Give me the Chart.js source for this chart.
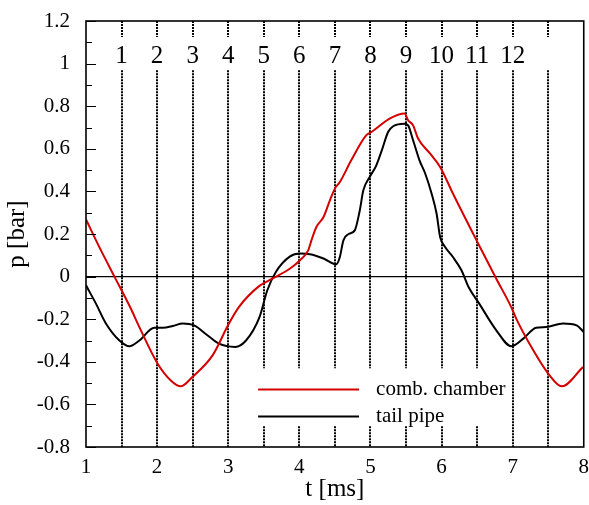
<!DOCTYPE html>
<html>
<head>
<meta charset="utf-8">
<script src="https://cdn.jsdelivr.net/npm/chart.js@4/dist/chart.umd.min.js"></script>
<style>
  html, body { margin: 0; padding: 0; background: #fff; }
  #wrap { width: 589px; height: 505px; }
</style>
</head>
<body>
<div id="wrap"><canvas id="myChart" width="589" height="505"></canvas></div>
<script>
// comb. chamber pressure
const tCmb = [1.00, 1.20, 1.40, 1.63, 1.75, 2.01, 2.20, 2.33, 2.50, 2.78, 3.01, 3.15, 3.43, 3.62, 3.87,
  4.01, 4.125, 4.17, 4.24, 4.34, 4.43, 4.50, 4.57, 4.73, 4.94, 5.02, 5.27, 5.48, 5.53, 5.60,
  5.67, 5.84, 5.98, 6.16, 6.54, 6.77, 6.98, 7.05, 7.29, 7.50, 7.69, 7.99];
const pCmb = [0.268, 0.13, 0.00, -0.15, -0.237, -0.41, -0.49, -0.515, -0.47, -0.37, -0.22, -0.143, -0.046, -0.01, 0.038,
  0.077, 0.123, 0.17, 0.233, 0.28, 0.358, 0.413, 0.444, 0.546, 0.663, 0.68, 0.742, 0.766, 0.734, 0.71,
  0.648, 0.577, 0.515, 0.39, 0.139, -0.01, -0.143, -0.197, -0.346, -0.455, -0.515, -0.424];

// tail pipe pressure
const tTail = [1.00, 1.14, 1.28, 1.47, 1.61, 1.75, 1.96, 2.08, 2.22, 2.36, 2.52, 2.68, 2.87, 3.10, 3.25,
  3.44, 3.55, 3.67, 3.87, 4.01, 4.15, 4.34, 4.52, 4.57, 4.62, 4.69, 4.78, 4.85, 4.90, 4.99,
  5.08, 5.16, 5.25, 5.32, 5.48, 5.53, 5.60, 5.69, 5.77, 5.86, 5.93, 5.98, 6.05, 6.16, 6.28,
  6.38, 6.53, 6.77, 6.98, 7.15, 7.33, 7.47, 7.71, 7.90, 8.00];
const pTail = [-0.041, -0.127, -0.22, -0.30, -0.327, -0.30, -0.24, -0.24, -0.232, -0.22, -0.229, -0.268, -0.315, -0.33, -0.30,
  -0.19, -0.064, 0.022, 0.095, 0.108, 0.105, 0.085, 0.058, 0.092, 0.17, 0.199, 0.217, 0.31, 0.405, 0.468,
  0.52, 0.593, 0.68, 0.706, 0.718, 0.71, 0.64, 0.546, 0.484, 0.39, 0.296, 0.186, 0.139, 0.092, 0.03,
  -0.049, -0.127, -0.252, -0.327, -0.291, -0.24, -0.237, -0.22, -0.229, -0.26];

// numbered instants (dotted vertical lines)
const markerT = [1.5, 2, 2.5, 3, 3.5, 4, 4.5, 5, 5.5, 6, 6.5, 7, 7.5];
const markerLabels = ['1', '2', '3', '4', '5', '6', '7', '8', '9', '10', '11', '12', ''];

const seriesNames = ['comb. chamber', 'tail pipe'];
const seriesColors = ['#d40000', '#000000'];

const SERIF = '"Liberation Serif", "Times New Roman", serif';

function toPoints(xs, ys) {
  return xs.map((x, i) => ({ x: x, y: ys[i] }));
}

const overlay = {
  id: 'overlay',
  beforeDatasetsDraw(chart) {
    const ctx = chart.ctx;
    const x = chart.scales.x, y = chart.scales.y;
    const area = chart.chartArea;
    ctx.save();
    // zero line
    ctx.strokeStyle = '#000';
    ctx.lineWidth = 1.2;
    ctx.beginPath();
    ctx.moveTo(area.left, y.getPixelForValue(0));
    ctx.lineTo(area.right, y.getPixelForValue(0));
    ctx.stroke();
    // dotted lines with gaps for the numbers and the legend
    ctx.setLineDash([2, 1]);
    ctx.lineWidth = 2;
    markerT.forEach((t) => {
      const px = Math.round(x.getPixelForValue(t));
      let segs = [[1.2, 1.125], [0.969, -0.8]];
      if (t > 3.4 && t < 6.7) segs = [[1.2, 1.125], [0.969, -0.43], [-0.703, -0.8]];
      segs.forEach((s) => {
        ctx.beginPath();
        ctx.moveTo(px, y.getPixelForValue(s[0]));
        ctx.lineTo(px, y.getPixelForValue(s[1]));
        ctx.stroke();
      });
    });
    ctx.restore();
  },
  afterDraw(chart) {
    const ctx = chart.ctx;
    const x = chart.scales.x, y = chart.scales.y;
    const area = chart.chartArea;
    ctx.save();
    // frame
    ctx.strokeStyle = '#000';
    ctx.lineWidth = 1.6;
    ctx.strokeRect(area.left, area.top, area.right - area.left, area.bottom - area.top);
    // inner ticks on the y axis
    ctx.lineWidth = 1;
    for (let k = 0; k <= 20; k++) {
      const v = -0.8 + k * 0.1;
      const py = Math.round(y.getPixelForValue(v)) + 0.5;
      ctx.beginPath();
      ctx.moveTo(area.left, py);
      ctx.lineTo(area.left + (k % 2 === 0 ? 10 : 6), py);
      ctx.stroke();
    }
    // numbers above the lines
    ctx.fillStyle = '#000';
    ctx.font = '25px ' + SERIF;
    ctx.textAlign = 'center';
    ctx.textBaseline = 'middle';
    markerT.forEach((t, i) => {
      ctx.fillText(markerLabels[i], x.getPixelForValue(t), y.getPixelForValue(1.035));
    });
    // legend
    ctx.font = '21px ' + SERIF;
    ctx.textAlign = 'left';
    const rows = [-0.53, -0.656];
    chart.data.datasets.forEach((ds, i) => {
      const py = Math.round(y.getPixelForValue(rows[i])) + 0.5;
      ctx.strokeStyle = ds.borderColor;
      ctx.lineWidth = 2;
      ctx.beginPath();
      ctx.moveTo(x.getPixelForValue(3.42), py);
      ctx.lineTo(x.getPixelForValue(4.84), py);
      ctx.stroke();
      ctx.fillText(ds.label, x.getPixelForValue(5.08), py);
    });
    ctx.restore();
  }
};

function makeChart() {
  const ctx = document.getElementById('myChart');
  return new Chart(ctx, {
    type: 'line',
    data: {
      datasets: [
        { label: seriesNames[0], data: toPoints(tCmb, pCmb), borderColor: seriesColors[0] },
        { label: seriesNames[1], data: toPoints(tTail, pTail), borderColor: seriesColors[1] }
      ]
    },
    options: {
      responsive: false,
      animation: false,
      events: [],
      layout: { autoPadding: false, padding: { top: 21, right: 5, left: 0, bottom: 0 } },
      elements: {
        point: { radius: 0 },
        line: { borderWidth: 2, cubicInterpolationMode: 'monotone', fill: false }
      },
      plugins: { legend: { display: false }, tooltip: { enabled: false } },
      scales: {
        x: {
          type: 'linear',
          min: 1, max: 8,
          afterFit: (s) => { s.height = 58; },
          grid: { display: false },
          border: { display: false },
          ticks: { stepSize: 1, padding: 0, color: '#000', font: { family: SERIF, size: 21 } },
          title: { display: true, text: 't [ms]', color: '#000', font: { family: SERIF, size: 25 }, padding: { top: 0, bottom: 1 } }
        },
        y: {
          min: -0.8, max: 1.2,
          afterFit: (s) => { s.width = 86; },
          grid: { display: false },
          border: { display: false },
          ticks: {
            stepSize: 0.2, padding: 8, color: '#000',
            font: { family: SERIF, size: 21 },
            callback: (v) => String(+Number(v).toFixed(1))
          },
          title: { display: true, text: 'p [bar]', color: '#000', font: { family: SERIF, size: 25 }, padding: { top: 2, bottom: 0 } }
        }
      }
    },
    plugins: [overlay]
  });
}

document.addEventListener('DOMContentLoaded', async () => {
  try {
    await Promise.all([
      document.fonts.load('21px "Liberation Serif"'),
      document.fonts.load('25px "Liberation Serif"')
    ]);
  } catch (e) {}
  makeChart();
});
</script>
</body>
</html>
